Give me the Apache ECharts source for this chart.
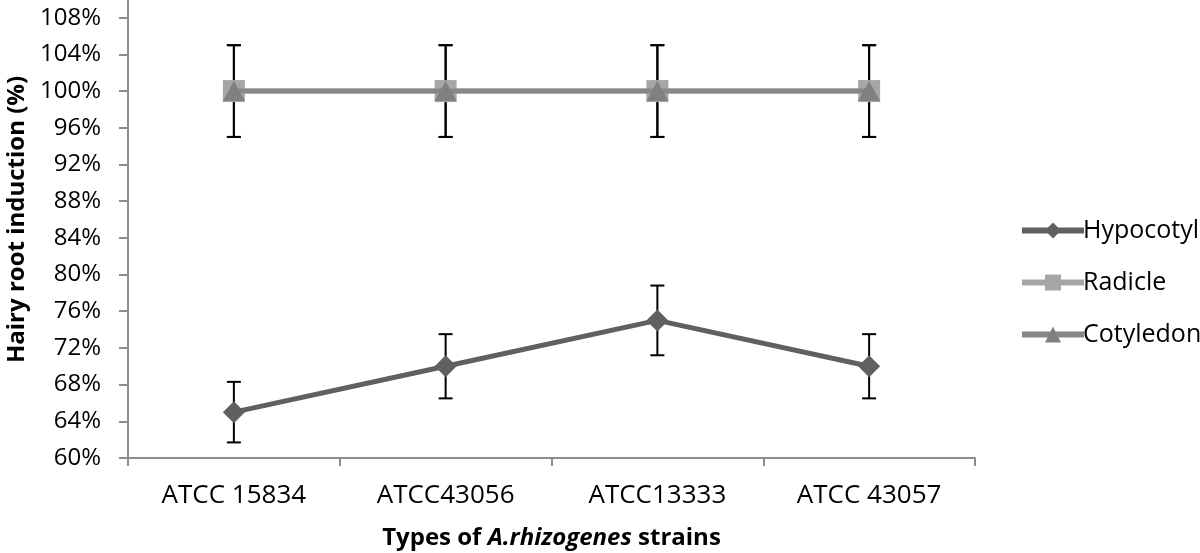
<!DOCTYPE html>
<html>
<head>
<meta charset="utf-8">
<script src="https://cdn.jsdelivr.net/npm/echarts@6/dist/echarts.min.js"></script>
<style>html,body{margin:0;padding:0;background:#fff;}#c{width:1200px;height:553px;}</style>
</head>
<body>
<div id="c"></div>
<script>
var categories = ['ATCC 15834', 'ATCC43056', 'ATCC13333', 'ATCC 43057'];
var hypocotyl = [65, 70, 75, 70];
var hypocotylErr = [3.3, 3.5, 3.8, 3.5];
var radicle = [100, 100, 100, 100];
var radicleErr = [5, 5, 5, 5];
var cotyledon = [100, 100, 100, 100];
var cotyledonErr = [5, 5, 5, 5];

function errData(vals, errs) {
  return vals.map(function (v, i) { return [i, v - errs[i], v + errs[i]]; });
}
function errSeries(vals, errs) {
  return {
    type: 'custom',
    z: 1,
    silent: true,
    data: errData(vals, errs),
    renderItem: function (params, api) {
      var x = api.value(0);
      var lo = api.coord([x, api.value(1)]);
      var hi = api.coord([x, api.value(2)]);
      var w = 7;
      var st = { stroke: '#000', lineWidth: 2 };
      return {
        type: 'group',
        children: [
          { type: 'line', shape: { x1: lo[0], y1: lo[1], x2: hi[0], y2: hi[1] }, style: st },
          { type: 'line', shape: { x1: lo[0] - w, y1: lo[1], x2: lo[0] + w, y2: lo[1] }, style: st },
          { type: 'line', shape: { x1: hi[0] - w, y1: hi[1], x2: hi[0] + w, y2: hi[1] }, style: st }
        ]
      };
    }
  };
}

var font = "'Open Sans', 'Noto Sans', sans-serif";
var chart = echarts.init(document.getElementById('c'));
chart.setOption({
  animation: false,
  backgroundColor: '#fff',
  textStyle: { fontFamily: font },
  grid: { left: 128, right: 225, top: -19, bottom: 95, containLabel: false, outerBoundsMode: 'none' },
  legend: {
    orient: 'vertical',
    left: 1014,
    top: 213,
    itemWidth: 62,
    itemHeight: 20,
    itemGap: 27,
    lineStyle: { width: 6 },
    textStyle: { fontSize: 25, color: '#000', fontFamily: font, padding: [0, 0, 0, -6] },
    data: ['Hypocotyl', 'Radicle', 'Cotyledon']
  },
  xAxis: {
    type: 'category',
    data: categories,
    boundaryGap: true,
    axisLine: { lineStyle: { color: '#8c8c8c', width: 2 } },
    axisTick: { show: true, length: 8, lineStyle: { color: '#8c8c8c', width: 2 } },
    axisLabel: { color: '#000', fontSize: 26, margin: 25, fontFamily: font },
    name: '{b|Types of }{bi|A.rhizogenes}{b| strains}',
    nameLocation: 'middle',
    nameGap: 68,
    nameTextStyle: {
      rich: {
        b: { fontWeight: 'bold', fontSize: 24, color: '#000', fontFamily: font },
        bi: { fontWeight: 'bold', fontStyle: 'italic', fontSize: 24, color: '#000', fontFamily: font }
      }
    }
  },
  yAxis: {
    type: 'value',
    min: 60,
    max: 112,
    interval: 4,
    splitLine: { show: false },
    axisLine: { show: true, lineStyle: { color: '#8c8c8c', width: 2 } },
    axisTick: { show: true, length: 9, lineStyle: { color: '#8c8c8c', width: 2 } },
    axisLabel: { color: '#000', fontSize: 24, margin: 27, fontFamily: font, formatter: '{value}%' },
    name: 'Hairy root induction (%)',
    nameLocation: 'middle',
    nameGap: 99,
    nameTextStyle: { fontWeight: 'bold', fontSize: 24, color: '#000', fontFamily: font }
  },
  series: [
    errSeries(hypocotyl, hypocotylErr),
    errSeries(radicle, radicleErr),
    errSeries(cotyledon, cotyledonErr),
    {
      name: 'Hypocotyl', type: 'line', z: 3, data: hypocotyl,
      symbol: 'diamond', symbolSize: [22, 22],
      lineStyle: { color: '#606060', width: 5 },
      itemStyle: { color: '#606060' }
    },
    {
      name: 'Radicle', type: 'line', z: 3, data: radicle,
      symbol: 'rect', symbolSize: 22,
      lineStyle: { color: '#a6a6a6', width: 5 },
      itemStyle: { color: '#a6a6a6' }
    },
    {
      name: 'Cotyledon', type: 'line', z: 4, data: cotyledon,
      symbol: 'triangle', symbolSize: [22, 20],
      lineStyle: { color: '#878787', width: 5 },
      itemStyle: { color: '#808080' }
    }
  ]
});
</script>
</body>
</html>
